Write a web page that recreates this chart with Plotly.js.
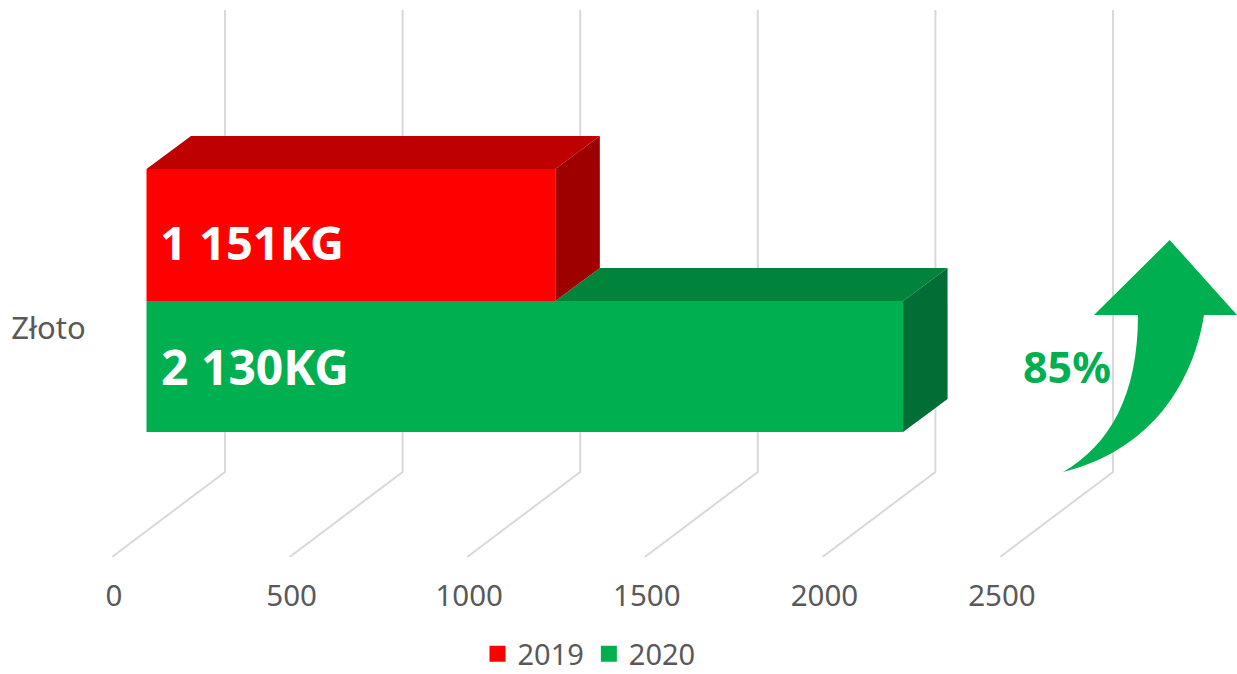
<!DOCTYPE html>
<html>
<head>
<meta charset="utf-8">
<script src="https://cdn.plot.ly/plotly-3.0.1.min.js"></script>
<style>html,body{margin:0;padding:0;background:#fff;overflow:hidden;width:1237px;height:674px}#c{width:1237px;height:674px;overflow:hidden}</style>
</head>
<body>
<div id="c"></div>
<script>
const categories = ["Złoto"];
const seriesNames = ["2019", "2020"];
const values2019 = [1151];
const values2020 = [2130];
const dataLabels = ["1 151KG", "2 130KG"];
const tickValues = [0, 500, 1000, 1500, 2000, 2500];
const changeLabel = "85%";

const W = 1237, H = 690, L = 112, B = 557, XS = 177.6 / 500, YU = 462, YC = 326;
const X = p => (p - L) / XS;
const Y = p => (p - YC) / YU;
const RED = "#FF0000", RED_TOP = "#BF0000", RED_SIDE = "#9E0000";
const GRN = "#00B050", GRN_TOP = "#00843C", GRN_SIDE = "#006E35";
const TXT = "#595959", FONT = "'Noto Sans', sans-serif";

const wallDx = 113 / XS, wallDy = -85 / YU, wallTop = Y(10);
const baseX = 34.5 / XS;
const depthX = 44.5 / XS, depthY = -33 / YU;

const bandTop2019 = Y(169), bandMid = Y(301), bandBottom = Y(432);

const gridShapes = tickValues.map(v => ({
  type: "path", xref: "x", yref: "y", layer: "below",
  path: "M" + v + "," + Y(B) + " L" + (v + wallDx) + "," + (Y(B) + wallDy) + " L" + (v + wallDx) + "," + wallTop,
  line: { color: "#D9D9D9", width: 2 }
}));

function faces(start, v, top, bottom, topColor, sideColor) {
  const x0 = baseX + start, x1 = baseX + v;
  return [
    { type: "scatter", mode: "lines", showlegend: false, hoverinfo: "skip", fill: "toself",
      fillcolor: topColor, line: { width: 0, color: topColor },
      x: [x0, x0 + depthX, x1 + depthX, x1, x0], y: [top, top + depthY, top + depthY, top, top] },
    { type: "scatter", mode: "lines", showlegend: false, hoverinfo: "skip", fill: "toself",
      fillcolor: sideColor, line: { width: 0, color: sideColor },
      x: [x1, x1 + depthX, x1 + depthX, x1, x1], y: [top, top + depthY, bottom + depthY, bottom, top] }
  ];
}

function bar(name, v, top, bottom, color) {
  return { type: "bar", orientation: "h", name, showlegend: false, hoverinfo: "skip",
    x: v, y: [0], base: [baseX], offset: top, width: bottom - top, marker: { color, line: { width: 0 } } };
}

function legendKey(name, color) {
  return { type: "scatter", mode: "markers", name, x: [null], y: [null], hoverinfo: "skip",
    marker: { symbol: "square", size: 16, color } };
}

const data = [
  bar(seriesNames[1], values2020, bandMid, bandBottom, GRN),
  bar(seriesNames[0], values2019, bandTop2019, bandMid, RED),
  ...faces(values2019[0], values2020[0], bandMid, bandBottom, GRN_TOP, GRN_SIDE),
  ...faces(0, values2019[0], bandTop2019, bandMid, RED_TOP, RED_SIDE),
  legendKey(seriesNames[0], RED),
  legendKey(seriesNames[1], GRN)
];

const arrowPath = "M" + [
  [1169.7, 240], [1237, 315], [1204, 315]
].map(p => X(p[0]) + "," + Y(p[1])).join(" L") +
  " C" + [[1192, 390], [1145, 452], [1063, 472]].map(p => X(p[0]) + "," + Y(p[1])).join(" ") +
  " C" + [[1110, 445], [1138, 395], [1138, 315]].map(p => X(p[0]) + "," + Y(p[1])).join(" ") +
  " L" + X(1094) + "," + Y(315) + " Z";

const labelFont = (c, s) => ({ family: FONT, size: s, color: c, weight: 700 });

const layout = {
  width: W, height: H,
  margin: { l: L, r: 0, t: 0, b: H - B, pad: 0 },
  paper_bgcolor: "#fff", plot_bgcolor: "rgba(0,0,0,0)",
  showlegend: true,
  barmode: "overlay",
  xaxis: {
    range: [0, X(W)], showgrid: false, zeroline: false, showline: false,
    tickmode: "array", tickvals: tickValues, ticks: "outside", ticklen: 13, tickcolor: "rgba(0,0,0,0)",
    ticklabelshift: 2,
    tickfont: { family: FONT, size: 29.5, color: TXT }
  },
  yaxis: {
    range: [Y(B), Y(0)], showgrid: false, zeroline: false, showline: false,
    tickmode: "array", tickvals: [0], ticktext: categories, ticks: "outside", ticklen: 19, tickcolor: "rgba(0,0,0,0)",
    ticklabelshift: -2,
    tickfont: { family: FONT, size: 31, color: TXT }
  },
  legend: {
    orientation: "h", x: (589 - L) / (W - L), xanchor: "center", y: (B - 654) / B, yanchor: "middle",
    font: { family: FONT, size: 29, color: TXT }, itemwidth: 30, bgcolor: "rgba(0,0,0,0)"
  },
  annotations: [
    { xref: "x", yref: "y", x: baseX, y: Y(241.5), xanchor: "left", yanchor: "middle", xshift: 11.5, showarrow: false,
      text: dataLabels[0], font: labelFont("#FFFFFF", 47) },
    { xref: "x", yref: "y", x: baseX, y: Y(366), xanchor: "left", yanchor: "middle", xshift: 12.5, showarrow: false,
      text: dataLabels[1], font: labelFont("#FFFFFF", 48) },
    { xref: "x", yref: "y", x: X(1066.5), y: Y(366), xanchor: "center", yanchor: "middle", showarrow: false,
      text: changeLabel, font: labelFont(GRN, 43) }
  ],
  shapes: [
    ...gridShapes,
    { type: "path", xref: "x", yref: "y", path: arrowPath, fillcolor: GRN, line: { width: 0 }, layer: "above" }
  ]
};

Plotly.newPlot("c", data, layout, { displayModeBar: false, staticPlot: true });
</script>
</body>
</html>
